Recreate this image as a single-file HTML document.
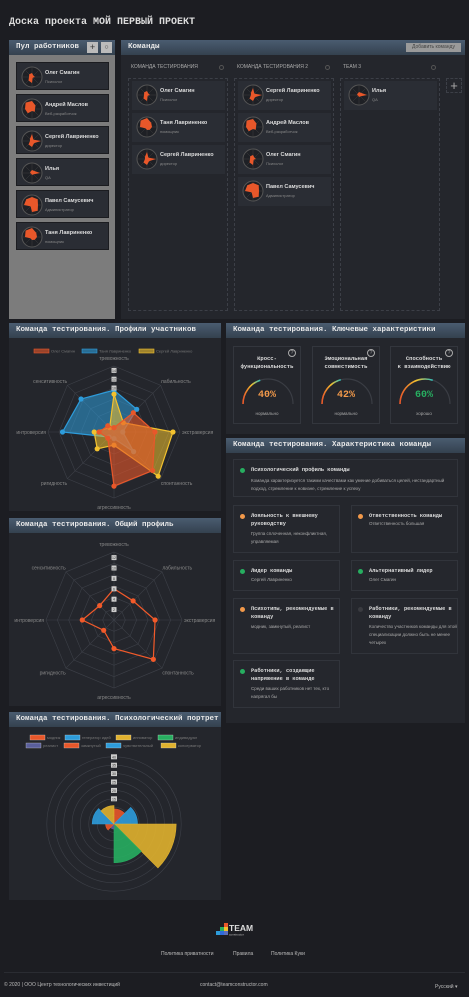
<!DOCTYPE html>
<html><head><meta charset="utf-8">
<style>
*{margin:0;padding:0;box-sizing:border-box}
body{width:469px;height:997px;background:#1c1d22;position:relative;overflow:hidden;font-family:"Liberation Sans","Noto Sans CJK SC",sans-serif;color:#ccc}
.a{position:absolute}
.mono{font-family:"Liberation Mono","DejaVu Sans Mono",monospace}
.panel{position:absolute;background:#24262c}
.hdr{position:absolute;left:0;right:0;top:0;height:15px;background:linear-gradient(#4a5c70,#34414f);font-family:"Liberation Mono",monospace;font-weight:bold;font-size:7.5px;color:#e8e8e8;line-height:15px;padding-left:7px;white-space:nowrap}
.card{position:absolute;background:#2a2d34;border:1px solid #1b1c20;width:93px;height:29px}
.card .nm{position:absolute;left:28px;top:7px;font-size:5.5px;font-weight:bold;color:#ddd;white-space:nowrap}
.card .rl{position:absolute;left:28px;top:16px;font-size:4px;color:#888;white-space:nowrap}
.card svg{position:absolute;left:4px;top:3px}
.col{position:absolute;top:78px;width:100px;height:233px;border:1px dashed #3c3f47}
.tl{position:absolute;top:64px;font-size:5px;color:#aaa;white-space:nowrap}
.dot{position:absolute;width:5px;height:5px;border-radius:50%;border:1px solid #555}
.gb{position:absolute;top:346px;width:68px;height:78px;border:1px solid #33363d}
.gb .t{position:absolute;top:8px;left:0;right:0;text-align:center;font-family:"Liberation Mono",monospace;font-weight:bold;font-size:5.5px;color:#ddd;line-height:8px}
.gb .q{position:absolute;right:4px;top:2px;width:8px;height:8px;border:1px solid #aaa;border-radius:50%;font-size:5px;text-align:center;line-height:6px;color:#aaa}
.gb .st{position:absolute;top:64px;left:0;right:0;text-align:center;font-size:4.5px;color:#aaa}
.gb .v{position:absolute;top:43px;left:0;right:0;text-align:center;font-family:"Liberation Mono",monospace;font-size:10px;font-weight:bold}
.ch{position:absolute;border:1px solid #31343b;background:#25272d}
.ch .b{position:absolute;left:6px;top:8px;width:5px;height:5px;border-radius:50%}
.ch .h{position:absolute;left:17px;top:6px;font-family:"Liberation Mono",monospace;font-weight:bold;font-size:5.3px;color:#ddd;line-height:8px;width:85%}
.ch .d{position:absolute;left:17px;font-size:4.5px;color:#aaa;line-height:8px;width:88%}
.ft{font-size:5px;color:#bbb;white-space:nowrap}
</style></head><body>
<div class="a mono" style="left:9px;top:17px;font-size:10px;font-weight:bold;color:#ddd;white-space:nowrap">Доска проекта МОЙ ПЕРВЫЙ ПРОЕКТ</div>

<!-- pool -->
<div class="panel" style="left:9px;top:40px;width:106px;height:279px;background:#7c7c7c">
 <div class="hdr">Пул работников</div>
 <div class="a" style="left:78px;top:2px;width:11px;height:11px;background:#bbb;color:#333;font-size:9px;text-align:center;line-height:10px">+</div>
 <div class="a" style="left:92px;top:2px;width:11px;height:11px;background:#bbb;color:#333;font-size:7px;text-align:center;line-height:11px">○</div>
</div>
<div id="pool"></div>

<!-- teams -->
<div class="panel" style="left:121px;top:40px;width:344px;height:279px">
 <div class="hdr">Команды</div>
 <div class="a" style="right:4px;top:3px;height:9px;width:55px;background:#9a9a9a;color:#444;font-size:5px;text-align:center;line-height:9px">Добавить команду</div>
</div>
<div class="tl" style="left:131px">КОМАНДА ТЕСТИРОВАНИЯ</div>
<div class="tl" style="left:237px">КОМАНДА ТЕСТИРОВАНИЯ 2</div>
<div class="tl" style="left:343px">TEAM 3</div>
<div class="dot" style="left:219px;top:65px"></div>
<div class="dot" style="left:325px;top:65px"></div>
<div class="dot" style="left:431px;top:65px"></div>
<div class="col" style="left:128px"></div>
<div class="col" style="left:234px"></div>
<div class="col" style="left:340px"></div>
<div class="a" style="left:446px;top:78px;width:16px;height:15px;border:1px dashed #3c3f47;color:#aaa;font-size:13px;text-align:center;line-height:13px">+</div>
<div id="tcards"></div>

<!-- profiles -->
<div class="panel" style="left:9px;top:323px;width:212px;height:188px"><div class="hdr">Команда тестирования. Профили участников</div></div>
<svg class="a" id="r1" style="left:0;top:320px" width="230" height="195"></svg>

<div class="panel" style="left:9px;top:518px;width:212px;height:188px"><div class="hdr">Команда тестирования. Общий профиль</div></div>
<svg class="a" id="r2" style="left:0;top:515px" width="230" height="195"></svg>

<div class="panel" style="left:9px;top:712px;width:212px;height:188px"><div class="hdr">Команда тестирования. Психологический портрет</div></div>
<svg class="a" id="p1" style="left:0;top:710px" width="230" height="195"></svg>

<!-- key chars -->
<div class="panel" style="left:226px;top:323px;width:239px;height:111px"><div class="hdr">Команда тестирования. Ключевые характеристики</div></div>
<div id="gauges"></div>

<div class="panel" style="left:226px;top:438px;width:239px;height:285px"><div class="hdr">Команда тестирования. Характеристика команды</div></div>
<div class="ch" style="left:233px;top:459px;width:225px;height:38px"><div class="b" style="background:#27ae60"></div><div class="h">Психологический профиль команды</div><div class="d" style="top:17px">Команда характеризуется такими качествами как умение добиваться целей, нестандартный подход, стремление к новизне, стремление к успеху</div></div>
<div class="ch" style="left:233px;top:505px;width:107px;height:48px"><div class="b" style="background:#f2994a"></div><div class="h">Лояльность к внешнему руководству</div><div class="d" style="top:24px">Группа сплоченная, неконфликтная, управляемая</div></div>
<div class="ch" style="left:351px;top:505px;width:107px;height:48px"><div class="b" style="background:#f2994a"></div><div class="h">Ответственность команды</div><div class="d" style="top:14px">Ответственность большая</div></div>
<div class="ch" style="left:233px;top:560px;width:107px;height:31px"><div class="b" style="background:#27ae60"></div><div class="h">Лидер команды</div><div class="d" style="top:15px">Сергей Лавриненко</div></div>
<div class="ch" style="left:351px;top:560px;width:107px;height:31px"><div class="b" style="background:#27ae60"></div><div class="h">Альтернативный лидер</div><div class="d" style="top:15px">Олег Смагин</div></div>
<div class="ch" style="left:233px;top:598px;width:107px;height:56px"><div class="b" style="background:#f2994a"></div><div class="h">Психотипы, рекомендуемые в команду</div><div class="d" style="top:24px">модник, замкнутый, реалист</div></div>
<div class="ch" style="left:351px;top:598px;width:107px;height:56px"><div class="b" style="background:#3a3b40"></div><div class="h">Работники, рекомендуемые в команду</div><div class="d" style="top:24px">Количество участников команды для этой специализации должно быть не менее четырех</div></div>
<div class="ch" style="left:233px;top:660px;width:107px;height:48px"><div class="b" style="background:#27ae60"></div><div class="h">Работники, создающие напряжение в команде</div><div class="d" style="top:24px">Среди ваших работников нет тех, кто напрягал бы</div></div>

<!-- footer -->
<svg class="a" style="left:216px;top:921px" width="40" height="16">
 <rect x="0" y="10" width="4" height="4" fill="#2d9cdb"/><rect x="4" y="10" width="4" height="4" fill="#2d6cdb"/><rect x="4" y="6" width="4" height="4" fill="#27ae60"/><rect x="8" y="6" width="4" height="4" fill="#f2c12e"/><rect x="8" y="2" width="4" height="4" fill="#e8572a"/><rect x="8" y="10" width="4" height="4" fill="#5a6cbb"/>
 <text x="13" y="10" font-family="Liberation Sans" font-weight="bold" font-size="8.5" fill="#ddd">TEAM</text>
 <text x="13" y="14.5" font-family="Liberation Sans" font-size="3" fill="#bbb">constructor</text>
</svg>
<div class="a ft" style="left:161px;top:951px">Политика приватности</div>
<div class="a ft" style="left:233px;top:951px">Правила</div>
<div class="a ft" style="left:271px;top:951px">Политика Куки</div>
<div class="a" style="left:4px;top:972px;width:461px;height:1px;background:#2a2c32"></div>
<div class="a ft" style="left:4px;top:982px">© 2020 | ООО Центр технологических инвестиций</div>
<div class="a ft" style="left:200px;top:982px">contact@teamconstructor.com</div>
<div class="a ft" style="left:435px;top:984px">Русский ▾</div>

<script>
const NS='http://www.w3.org/2000/svg';
function S(p,tag,at){const e=document.createElementNS(NS,tag);for(const k in at)e.setAttribute(k,at[k]);p.appendChild(e);return e;}
function avatar(shapeIdx){const sh=[[4,2,-3,-1,6,5,3,-4],[8,5,3,4,2,6,7,9],[7,2,9,3,6,5,2,3],[3,3,8,2,2,1,2,2],[8,8,6,8,7,2,8,8],[9,6,5,4,3,2,7,9]][shapeIdx];
 let s='<svg width="22" height="22"><circle cx="11" cy="11" r="10" fill="#1e2025" stroke="#555" stroke-width="1"/>';
 for(let i=0;i<8;i++){const a=i*Math.PI/4;s+='<line x1="11" y1="11" x2="'+(11+9*Math.sin(a))+'" y2="'+(11-9*Math.cos(a))+'" stroke="#444" stroke-width="0.4"/>';}
 let pts=[];for(let i=0;i<8;i++){const a=i*Math.PI/4,r=Math.abs(sh[i]);pts.push((11+r*Math.sin(a)).toFixed(1)+','+(11-r*Math.cos(a)).toFixed(1));}
 return s+'<polygon points="'+pts.join(' ')+'" fill="#e8572a"/></svg>';}
const people=[['Олег Смагин','Психолог',0],['Андрей Маслов','Веб-разработчик',1],['Сергей Лавриненко','директор',2],['Илья','QA',3],['Павел Самусевич','Администратор',4],['Таня Лавриненко','помощник',5]];
const pool=document.getElementById('pool');
people.forEach((p,i)=>{const d=document.createElement('div');d.className='card';


d.style.left='16px';d.style.top=(62+i*32)+'px';d.style.height='28px';d.innerHTML=avatar(p[2])+'<div class="nm">'+p[0]+'</div><div class="rl">'+p[1]+'</div>';pool.appendChild(d);});
const cols=[[132,[0,5,2]],[238,[2,1,0,4]],[344,[3]]];
const tc=document.getElementById('tcards');
cols.forEach(c=>c[1].forEach((pi,j)=>{const p=people[pi];const d=document.createElement('div');d.className='card';


d.style.left=c[0]+'px';d.style.top=(81+j*32)+'px';d.style.background='#2a2d34';d.style.border='none';d.innerHTML=avatar(p[2])+'<div class="nm">'+p[0]+'</div><div class="rl">'+p[1]+'</div>';tc.appendChild(d);}));

// radar data
const radarAxes=['тревожность','лабильность','экстраверсия','спонтанность','агрессивность','ригидность','интроверсия','сенситивность'];
const memberNames=['Олег Смагин','Таня Лавриненко','Сергей Лавриненко'];
const olegValues=[1,6.2,9.3,12.4,12.3,2,3.4,2];
const tanyaValues=[9.5,7.3,2,6.3,1.5,1.6,11.7,10.6];
const sergeyValues=[8.6,3,13.4,14.2,3,5.4,4.5,1.4];
const r1Ticks=['14','12','10'];
const overallValues=[6,5.2,7.9,10.7,5.5,2.8,6.1,3.9];
const r2Ticks=['12','10','8','6','4','2'];
const portraitCats=['модник','генератор идей','инноватор','индивидуал','реалист','замкнутый','чувствительный','консерватор'];
const portraitValues=[9,14,37,23,3,5,13,11];
const portraitTicks=['40','35','30','25','20','15'];
const gaugeTitles=['Кросс-функциональность','Эмоциональная совместимость','Способность к взаимодействию'];
const gaugeValues=[40,42,60];
const gaugeStatus=['нормально','нормально','хорошо'];

const labelAnchor=['middle','start','start','start','middle','end','end','end'];
function radarGrid(svg,cx,cy,R,rings,lr){
 for(let k=1;k<=rings;k++){const r=R*k/rings;let pts=[];for(let i=0;i<8;i++){const a=i*Math.PI/4;pts.push((cx+r*Math.sin(a))+','+(cy-r*Math.cos(a)));}
  const e=S(svg,'polygon',{points:pts.join(' '),fill:'none',stroke:'#3d4048','stroke-width':0.6});
  
  }
 radarAxes.forEach((t,i)=>{const a=i*Math.PI/4;
  const l=S(svg,'line',{x1:cx,y1:cy,x2:cx+R*Math.sin(a),y2:cy-R*Math.cos(a),stroke:'#3d4048','stroke-width':0.6});
  
  
  const x=cx+lr*Math.sin(a),y=cy-lr*Math.cos(a)+2;
  const tx=S(svg,'text',{x:i==0||i==4?x:(i<4?x-4:x+4),y:i==0?y-2:(i==4?y+3:y),'text-anchor':labelAnchor[i],'font-size':5,fill:'#888','font-family':'Liberation Sans'});tx.textContent=t;
  
  });
}
function radarTicks(svg,cx,cy,scale,ticks){ticks.forEach(t=>{const y=cy-(+t)*scale;
 S(svg,'rect',{x:cx-2.5,y:y-2.5,width:5,height:5,fill:'#ccc'});
 const e=S(svg,'text',{x:cx,y:y+1.5,'text-anchor':'middle','font-size':3.5,fill:'#333','font-family':'Liberation Sans'});e.textContent=t;
 
 });}
function radarSeries(svg,cx,cy,scale,vals,col,op,name){let pts=vals.map((v,i)=>{const a=i*Math.PI/4;return [cx+v*scale*Math.sin(a),cy-v*scale*Math.cos(a)];});
 const p=S(svg,'polygon',{points:pts.map(q=>q.join(',')).join(' '),fill:col,'fill-opacity':op,stroke:col,'stroke-width':1.2});
 
 
 pts.forEach(q=>{const c=S(svg,'circle',{cx:q[0],cy:q[1],r:2.6,fill:col});
  
  });}

const r1=document.getElementById('r1');const c1x=114,c1y=112,s1=4.4;
radarGrid(r1,c1x,c1y,66,6,72);
const legCols=['#e8572a','#2d9cdb','#f2c12e'];const legX=[34,82,139];
memberNames.forEach((n,i)=>{S(r1,'rect',{x:legX[i],y:29,width:15,height:4,fill:legCols[i],'fill-opacity':0.6,stroke:legCols[i],'stroke-width':0.6});
 const t=S(r1,'text',{x:legX[i]+17,y:32.5,'font-size':4,fill:'#777','font-family':'Liberation Sans'});t.textContent=n;
 
 });
radarSeries(r1,c1x,c1y,s1,tanyaValues,'#2d9cdb',0.55,'tanya');
radarSeries(r1,c1x,c1y,s1,sergeyValues,'#f2c12e',0.55,'sergey');
radarSeries(r1,c1x,c1y,s1,olegValues,'#e8572a',0.6,'oleg');
radarTicks(r1,c1x,c1y,s1,r1Ticks);

const r2=document.getElementById('r2');const c2x=114,c2y=105,s2=5.2;
radarGrid(r2,c2x,c2y,68,6,74);
radarSeries(r2,c2x,c2y,s2,overallValues,'#f25a2a',0,'overall');
radarTicks(r2,c2x,c2y,s2,r2Ticks);

// polar
const p1=document.getElementById('p1');const pcx=114,pcy=114,ps=1.68;
const pcol=['#e8572a','#2d9cdb','#e0b12e','#27ae60','#5a5f9c','#e8572a','#2d9cdb','#e0b12e'];
for(let k=1;k<=8;k++){const c=S(p1,'circle',{cx:pcx,cy:pcy,r:k*5*ps,fill:'none',stroke:'#3d4048','stroke-width':0.6});
 
 }
portraitValues.forEach((v,i)=>{const r=v*ps,a0=i*Math.PI/4,a1=(i+1)*Math.PI/4;
 const d='M'+pcx+','+pcy+' L'+(pcx+r*Math.sin(a0))+','+(pcy-r*Math.cos(a0))+' A'+r+','+r+' 0 0 1 '+(pcx+r*Math.sin(a1))+','+(pcy-r*Math.cos(a1))+' Z';
 const e=S(p1,'path',{d:d,fill:pcol[i],'fill-opacity':0.9,stroke:pcol[i],'stroke-width':0.6});
 
 });
portraitTicks.forEach(t=>{const y=pcy-(+t)*ps;S(p1,'rect',{x:pcx-3,y:y-2.5,width:6,height:5,fill:'#ccc'});
 const e=S(p1,'text',{x:pcx,y:y+1.5,'text-anchor':'middle','font-size':3.5,fill:'#333','font-family':'Liberation Sans'});e.textContent=t;
 
 });
const plx=[30,65,116,158,26,64,106,161],ply=[26,26,26,26,34,34,34,34];
portraitCats.forEach((n,i)=>{S(p1,'rect',{x:plx[i],y:ply[i]-1,width:15,height:5,fill:pcol[i],stroke:'#ddd','stroke-width':0.3});
 const t=S(p1,'text',{x:plx[i]+17,y:ply[i]+3,'font-size':4,fill:'#777','font-family':'Liberation Sans'});t.textContent=n;
 
 });

// gauges
const gx=[233,312,390];const gg=document.getElementById('gauges');
gaugeValues.forEach((v,i)=>{const d=document.createElement('div');d.className='gb';
 
 
 d.style.left=gx[i]+'px';
 const col=v>=60?'#27ae60':'#f2994a';const r=25,cx=34,cy=57;
 const a=Math.PI*(1-v/100);const ex=cx+r*Math.cos(a),ey=cy-r*Math.sin(a);
 d.innerHTML='<div class="q">?</div><div class="t">'+gaugeTitles[i].replace(/(-|ая |ь )/,'$1<br>')+'</div>'+
 '<svg class="a" style="left:0;top:0" width="68" height="78"><defs><linearGradient id="g'+i+'" x1="0" x2="1"><stop offset="0" stop-color="#e8572a"/><stop offset="0.5" stop-color="#f2c12e"/><stop offset="1" stop-color="#2dbdbd"/></linearGradient></defs>'+
 '<path d="M'+(cx-r)+','+cy+' A'+r+','+r+' 0 0 1 '+(cx+r)+','+cy+'" fill="none" stroke="#3a3d44" stroke-width="1.2"/>'+
 '<path d="M'+(cx-r)+','+cy+' A'+r+','+r+' 0 0 1 '+ex+','+ey+'" fill="none" stroke="url(#g'+i+')" stroke-width="1.6"/></svg>'+
 '<div class="v" style="color:'+col+'">'+v+'%</div><div class="st">'+gaugeStatus[i]+'</div>';
 gg.appendChild(d);});
</script>
</body></html>
